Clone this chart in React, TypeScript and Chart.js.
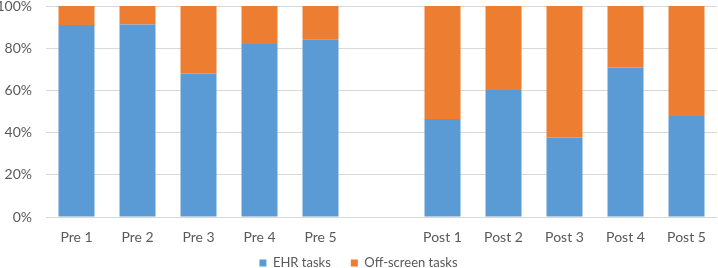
import React, { useEffect, useRef } from "react";
import { Chart, registerables } from "chart.js";

Chart.register(...registerables);

const categories = ["Pre 1", "Pre 2", "Pre 3", "Pre 4", "Pre 5", "", "Post 1", "Post 2", "Post 3", "Post 4", "Post 5"];
const ehrTasks = [91, 91.2, 68, 82, 84, null, 46.4, 60.2, 37.7, 70.8, 47.9];
const offScreenTasks = [9, 8.8, 32, 18, 16, null, 53.6, 39.8, 62.3, 29.2, 52.1];
const yTicks = [0, 20, 40, 60, 80, 100];

const FONT = "Lato";
const TEXT = "#595959";

const legendShift = {
  id: "legendShift",
  afterLayout(chart: any) {
    if (chart.legend) {
      chart.legend.top = 236.5;
      chart.legend.bottom = 268;
      chart.legend.height = 31.5;
    }
  },
};

export default function App() {
  const ref = useRef<HTMLCanvasElement | null>(null);
  useEffect(() => {
    document.body.style.margin = "0";
    const chart = new Chart(ref.current as HTMLCanvasElement, {
      type: "bar",
      data: {
        labels: categories,
        datasets: [
          { label: "EHR tasks", data: ehrTasks as any, backgroundColor: "#5B9BD5", stack: "s" },
          { label: "Off-screen tasks", data: offScreenTasks as any, backgroundColor: "#ED7D31", stack: "s" },
        ],
      },
      plugins: [legendShift],
      options: {
        animation: false,
        responsive: false,
        maintainAspectRatio: false,
        layout: { padding: { left: 0, right: 1, top: 6, bottom: 0 } },
        datasets: { bar: { categoryPercentage: 1, barPercentage: 0.59 } },
        plugins: {
          legend: {
            position: "bottom",
            maxHeight: 22,
            labels: { font: { family: FONT, size: 13 }, color: TEXT, boxWidth: 7, boxHeight: 7, padding: 20 },
          },
          tooltip: { enabled: false },
        },
        scales: {
          x: {
            stacked: true,
            grid: { display: false, drawTicks: false },
            border: { display: false },
            afterFit: (s: any) => { s.height = 29; },
            ticks: { font: { family: FONT, size: 14 }, color: TEXT, padding: 12, maxRotation: 0, autoSkip: false },
          },
          y: {
            stacked: true,
            min: 0,
            max: 100,
            afterFit: (s: any) => { s.width = 46; s.paddingTop = 0; s.paddingBottom = 0; },
            afterBuildTicks: (s: any) => { s.ticks = yTicks.map((v) => ({ value: v })); },
            grid: { color: "#D9D9D9", drawTicks: false, lineWidth: 1 },
            border: { display: false },
            ticks: { font: { family: FONT, size: 14 }, color: TEXT, padding: 14, callback: (v: any) => v + "%" },
          },
        },
      },
    });
    return () => chart.destroy();
  }, []);
  return <canvas ref={ref} width={718} height={268} style={{ display: "block" }} />;
}
